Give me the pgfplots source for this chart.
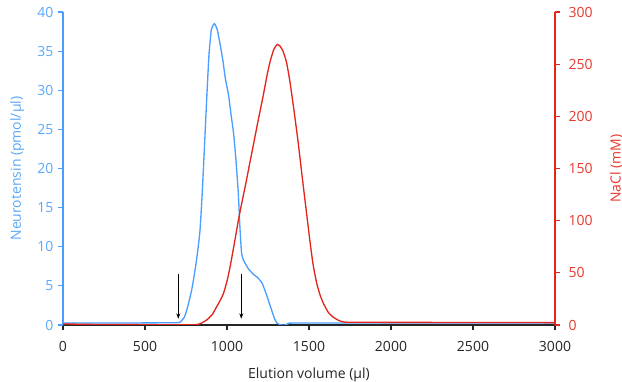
\documentclass[border=0pt]{standalone}
\usepackage{pgfplots}
\pgfplotsset{compat=1.18}
\usepackage{fontspec}
\setmainfont{Open Sans}
\usetikzlibrary{arrows.meta}
\definecolor{nblue}{HTML}{4A9EFF}
\definecolor{nbluetxt}{HTML}{5AA8F8}
\definecolor{nred}{HTML}{E3261C}
\definecolor{nredtxt}{HTML}{E8382E}
\begin{document}
\begin{tikzpicture}[x=0.75pt,y=0.75pt]
\useasboundingbox (-63,-57) rectangle (559,325);
\pgfplotsset{
  every axis/.append style={
    scale only axis, width=369pt, height=234.75pt,
    at={(0,0)}, anchor=south west,
    xmin=0, xmax=3000,
    font=\fontsize{10.5}{12}\selectfont,
    /pgf/number format/assume math mode=true,
    tick align=outside, major tick length=3.75pt,
    axis line style={line width=0.8pt},
    every tick/.style={line width=0.8pt},
  }
}
\begin{axis}[
  axis x line*=bottom, axis y line*=left,
  ymin=0, ymax=40, ytick={0,5,...,40},
  xtick={0,500,...,3000},
  x axis line style={draw=black!85},
  xtick style={draw=black!85},
  y axis line style={draw=nblue},
  ytick style={draw=nblue},
  yticklabel style={text=nbluetxt},
  ylabel={Neurotensin (pmol/µl)},
  ylabel style={text=nbluetxt},
  xlabel={Elution volume (µl)},
  xticklabel style={text=black!85, yshift=-5pt},
  xlabel style={text=black!85, yshift=-5pt},
  /pgf/number format/set thousands separator={},
  ylabel shift=3pt,
]
\addplot[nblue, line width=1pt, smooth, tension=0.3] coordinates {
(0,0.25)(300,0.25)(690,0.3)(720,0.5)(740,1)(760,2.3)(785,4.5)(805,7)(820,9.2)(835,12)
(848,16.5)(862,22.5)(876,28.8)(890,34.5)(905,37.8)(923,38.5)(940,37.8)(957,36)(975,33.8)
(990,31.5)(1010,29.3)(1024,27)(1040,24.5)(1055,21)(1069,16.8)(1080,12)(1089,9.2)
(1100,8.3)(1130,7.2)(1160,6.5)(1190,6)(1215,5.3)(1242,3.8)(1272,1.9)(1290,0.8)
(1303,0.3)(1320,0.05)(1343,0)(1370,0.05)(1400,0.25)(2000,0.25)(3000,0.25)
};
\addplot[black, line width=0.6pt, -{Stealth[length=4pt,width=3pt]}] coordinates {(703,6.5)(703,0.8)};
\addplot[black, line width=0.6pt, -{Stealth[length=4pt,width=3pt]}] coordinates {(1087,6.5)(1087,0.8)};
\end{axis}
\begin{axis}[
  axis x line=none, axis y line*=right,
  ymin=0, ymax=300, ytick={0,50,...,300},
  y axis line style={draw=nred},
  ytick style={draw=nred},
  yticklabel style={text=nredtxt, xshift=3pt},
  ylabel={NaCl (mM)},
  ylabel style={text=nredtxt},
  ylabel shift=6pt,
]
\addplot[nred, line width=1pt, smooth, tension=0.3] coordinates {
(0,1)(200,0.5)(500,0.3)(800,0.3)(840,1.5)(876,4.8)(910,10)(937,17.5)(960,24)(978,30)
(1000,42)(1018,55)(1040,74)(1059,91)(1069,100)(1085,113)(1110,132)(1135,152)(1160,172)(1190,196)
(1221,220)(1245,240)(1262,252)(1285,264)(1307,269)(1325,267)(1343,262)(1364,251)
(1384,233)(1409,205)(1434,175)(1460,140)(1486,106)(1510,75)(1526,57)(1547,40)(1567,29)(1587,21)
(1618,12)(1648,7.5)(1680,4.5)(1709,3)(1800,2.6)(3000,2.3)
};
\end{axis}
\end{tikzpicture}
\end{document}
